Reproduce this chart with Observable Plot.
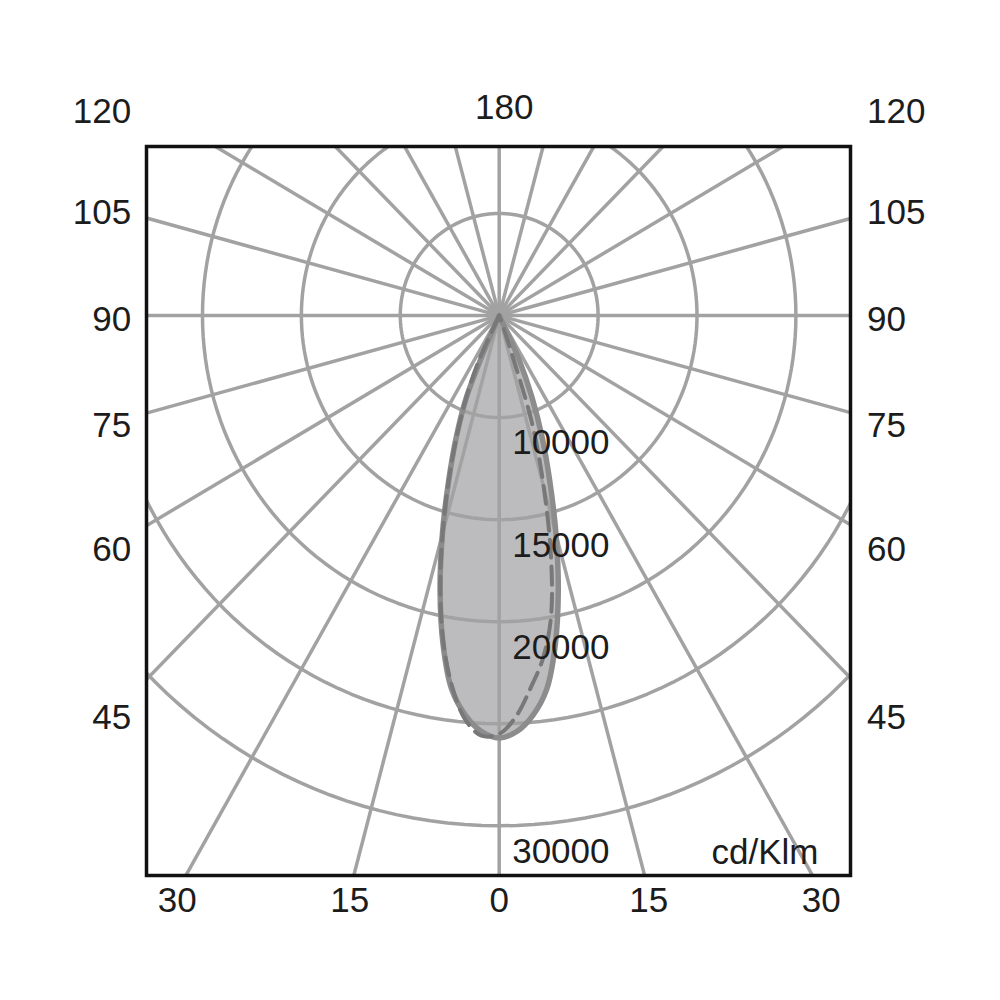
<!DOCTYPE html>
<html>
<head>
<meta charset="utf-8">
<script src="https://cdn.jsdelivr.net/npm/d3@7"></script>
<script src="https://cdn.jsdelivr.net/npm/@observablehq/plot@0.6"></script>
<style>
  body { margin: 0; background: #fff; }
  #chart svg { display: block; }
</style>
</head>
<body>
<div id="chart"></div>
<script>
// ---- data (cd/klm), signed gamma angles: negative = left half-plane ----
const gammaAngles = [-30, -27.5, -25, -22.5, -20, -17.5, -15, -12.5, -10, -7.5, -5, -2.5, 0,
                      2.5, 5, 7.5, 10, 12.5, 15, 17.5, 20, 22.5, 25, 27.5, 30];
const planeC0C180 = [5000, 5000, 5500, 9300, 11350, 13500, 16100, 18800, 21350, 23450, 24650, 25400, 25700,
                     25400, 24650, 23450, 21350, 18800, 16100, 13500, 11350, 9300, 7300, 5000, 5000];
const planeC90C270 = [5000, 5000, 7450, 9350, 11250, 13500, 16050, 18750, 21250, 23300, 24850, 25600, 25500,
                      24650, 23300, 21950, 20050, 17100, 13700, 10500, 5500, 5000, 5000, 5000, 5000];

const ringValues = [10000, 15000, 20000, 25000, 30000];
const ringLabelValues = [10000, 15000, 20000, 30000];
const radialOrigin = 5000;
const spokeAngles = [0, 15, 30, 45, 60, 75, 90, 105, 120, 135, 150, 165, 180, 195, 210, 225, 240, 255, 270, 285, 300, 315, 330, 345];
const sideTickAngles = [45, 60, 75, 90, 105, 120];
const bottomTickAngles = [-30, -15, 0, 15, 30];
const topTickAngles = [180];
const unitLabel = "cd/Klm";

// ---- helpers ----
const rad = d => d * Math.PI / 180;
function polar(a, v) {
  const r = Math.max(0, v - radialOrigin);
  return {x: r * Math.sin(rad(a)), y: -r * Math.cos(rad(a))};
}
function curvePoints(angles, values) {
  const pts = angles.map((a, i) => polar(a, values[i]));
  return pts.filter((p, i) => i === 0 || p.x !== pts[i - 1].x || p.y !== pts[i - 1].y);
}
const solidPts = curvePoints(gammaAngles, planeC0C180);
const dashPts = curvePoints(gammaAngles, planeC90C270);

const ringPts = [];
for (const v of ringValues) {
  for (let d = 0; d <= 360; d += 2) ringPts.push({ring: v, ...polar(d, v)});
}

// label placement (data units relative to centre)
const LXtext = 18600, LXray = 19500, YT = 10190, YB = 28700, YBray = 28200;
const sideY = a => Math.min(YT, -LXray * Math.cos(rad(a)) / Math.sin(rad(a)));

const gridColor = "#a2a2a2";
const textColor = "#1c1c1c";
const font = "'Liberation Sans', Arial, Helvetica, sans-serif";
const fs = 35;

const chart = Plot.plot({
  width: 1000,
  height: 1000,
  marginLeft: 146,
  marginRight: 150,
  marginTop: 146,
  marginBottom: 125,
  style: {fontFamily: font, background: "#fff", overflow: "visible"},
  x: {domain: [-17830, 17760], axis: null},
  y: {domain: [-27436, 8284], axis: null},
  marks: [
    Plot.line(solidPts, {x: "x", y: "y", fill: "#bcbcbe", stroke: "none", curve: "catmull-rom"}),
    Plot.line(ringPts, {x: "x", y: "y", z: "ring", stroke: gridColor, strokeWidth: 3.5, clip: true}),
    Plot.link(spokeAngles, {
      x1: () => 0, y1: () => 0,
      x2: a => 60000 * Math.sin(rad(a)), y2: a => -60000 * Math.cos(rad(a)),
      stroke: gridColor, strokeWidth: 3.5, clip: true
    }),
    Plot.line(solidPts, {x: "x", y: "y", stroke: "#8c8c8c", strokeWidth: 5.5, curve: "catmull-rom", strokeLinejoin: "round"}),
    Plot.line(dashPts, {x: "x", y: "y", stroke: "#787878", strokeWidth: 4, strokeDasharray: "18,9", curve: "catmull-rom"}),
    Plot.frame({stroke: "#111", strokeWidth: 3.5}),
    Plot.text(ringLabelValues, {
      x: () => 0, y: v => -(v - radialOrigin), text: v => String(v),
      textAnchor: "start", lineAnchor: "top", dx: 13, dy: 12,
      fontSize: fs, fill: textColor
    }),
    Plot.text([unitLabel], {
      frameAnchor: "bottom-right", text: d => d, textAnchor: "end", lineAnchor: "bottom",
      dx: -32, dy: -12, fontSize: fs, fill: textColor
    }),
    // left column of angle labels
    Plot.text(sideTickAngles, {
      x: () => -LXtext, y: a => sideY(a), text: a => String(a),
      textAnchor: "end", dy: 4, fontSize: fs, fill: textColor
    }),
    // right column of angle labels
    Plot.text(sideTickAngles, {
      x: () => LXtext, y: a => sideY(a), text: a => String(a),
      textAnchor: "start", dy: 4, fontSize: fs, fill: textColor
    }),
    // bottom row
    Plot.text(bottomTickAngles, {
      x: a => YBray * Math.tan(rad(a)), y: () => -YB, text: a => String(Math.abs(a)),
      fontSize: fs, fill: textColor
    }),
    // top
    Plot.text(topTickAngles, {
      x: () => 0, y: () => YT, text: a => String(a), dx: 5,
      fontSize: fs, fill: textColor
    })
  ]
});
document.getElementById("chart").appendChild(chart);
</script>
</body>
</html>
